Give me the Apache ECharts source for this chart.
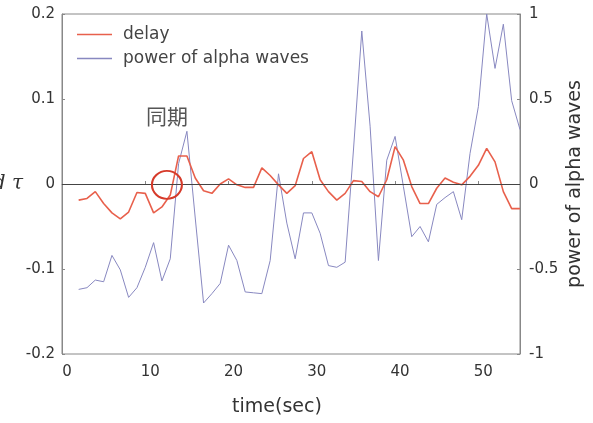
<!DOCTYPE html>
<html>
<head>
<meta charset="utf-8">
<script src="https://cdn.jsdelivr.net/npm/echarts@6/dist/echarts.min.js"></script>
<style>
  html, body { margin: 0; padding: 0; background: #fff; }
  #container1 { width: 593px; height: 423px; }
</style>
</head>
<body>
<div id="container1"></div>
<script>
// time (sec), one sample per second
var times = [2, 3, 4, 5, 6, 7, 8, 9, 10, 11, 12, 13, 14, 15, 16, 17, 18, 19, 20, 21,
             22, 23, 24, 25, 26, 27, 28, 29, 30, 31, 32, 33, 34, 35, 36, 37, 38, 39, 40, 41,
             42, 43, 44, 45, 46, 47, 48, 49, 50, 51, 52, 53, 54, 55];

// delay (left axis)
var delay = [-0.019, -0.017, -0.009, -0.023, -0.034, -0.041, -0.033, -0.010, -0.011, -0.034,
             -0.027, -0.013, 0.033, 0.033, 0.007, -0.008, -0.011, 0.000, 0.006, -0.001,
             -0.004, -0.004, 0.019, 0.010, -0.001, -0.011, -0.002, 0.030, 0.038, 0.005,
             -0.009, -0.019, -0.011, 0.004, 0.003, -0.009, -0.015, 0.005, 0.044, 0.028,
             -0.003, -0.023, -0.023, -0.005, 0.007, 0.002, -0.001, 0.009, 0.022, 0.042,
             0.026, -0.009, -0.029, -0.029];

// power of alpha waves (right axis)
var alpha = [-0.62, -0.61, -0.565, -0.575, -0.42, -0.505, -0.667, -0.61, -0.49, -0.345,
             -0.57, -0.44, 0.12, 0.31, -0.2, -0.70, -0.645, -0.585, -0.36, -0.45,
             -0.635, -0.64, -0.645, -0.45, 0.06, -0.23, -0.44, -0.17, -0.17, -0.29,
             -0.48, -0.49, -0.46, 0.2, 0.90, 0.34, -0.45, 0.14, 0.28, -0.015,
             -0.31, -0.25, -0.34, -0.12, -0.08, -0.045, -0.21, 0.18, 0.455, 1.0,
             0.68, 0.94, 0.49, 0.32];

var leftTicks = ['-0.2', '-0.1', '0', '0.1', '0.2'];
var rightTicks = ['-1', '-0.5', '0', '0.5', '1'];

var syncPoint = [12.6, -0.001];   // the circled crossing
var syncLabelAt = [12.6, 0.080];

var dom = document.getElementById("container1");
var myChart = echarts.init(dom);

var delayData = times.map(function (t, i) { return [t, delay[i]]; });
var alphaData = times.map(function (t, i) { return [t, alpha[i]]; });

var txt = '#333';
var font = 'DejaVu Sans';

option = {
    animation: false,
    backgroundColor: '#fff',
    color: ['#e8604c', '#8888c0'],
    grid: {
        left: 62, right: 73, top: 14, bottom: 69,
        outerBoundsMode: 'none',
        containLabel: false,
        show: true,
        borderColor: '#888',
        borderWidth: 1
    },
    legend: {
        orient: 'vertical',
        left: 72,
        top: 21,
        icon: 'rect',
        itemWidth: 35,
        itemHeight: 1.5,
        itemGap: 7,
        textStyle: { color: '#444', fontSize: 17, fontFamily: font, padding: [0, 0, 0, 6] },
        data: ['delay', 'power of alpha waves']
    },
    xAxis: {
        type: 'value',
        min: 0, max: 55, interval: 10,
        name: 'time(sec)',
        nameLocation: 'middle',
        nameGap: 44,
        nameMoveOverlap: false,
        nameTextStyle: { color: txt, fontSize: 19, fontFamily: font, padding: [0, 28, 0, 0] },
        axisLine: { lineStyle: { color: '#888' } },
        axisTick: { inside: true, length: 3, lineStyle: { color: '#888' } },
        axisLabel: {
            color: txt, fontSize: 15, fontFamily: font, margin: 11,
            padding: [0, 0, 0, 10], showMaxLabel: false
        },
        splitLine: { show: false }
    },
    yAxis: [
        {
            type: 'value',
            min: -0.2, max: 0.2, interval: 0.1,
            name: 'd τ',
            nameLocation: 'middle',
            nameRotate: 0,
            nameGap: 39,
            nameMoveOverlap: false,
            nameTextStyle: { color: '#333', fontSize: 20, fontFamily: 'DejaVu Serif', fontStyle: 'italic' },
            axisLine: { show: true, lineStyle: { color: '#888' } },
            axisTick: { show: true, inside: true, length: 3, lineStyle: { color: '#888' } },
            axisLabel: {
                color: txt, fontSize: 15, fontFamily: font, margin: 7,
                formatter: function (v) { return leftTicks[Math.round(v * 10) + 2]; }
            },
            splitLine: { show: false }
        },
        {
            type: 'value',
            min: -1, max: 1, interval: 0.5,
            name: 'power of alpha waves',
            nameLocation: 'middle',
            nameRotate: 90,
            nameGap: 46,
            nameMoveOverlap: false,
            nameTextStyle: { color: txt, fontSize: 19, fontFamily: font },
            axisLine: { show: true, lineStyle: { color: '#888' } },
            axisTick: { show: true, inside: true, length: 3, lineStyle: { color: '#888' } },
            axisLabel: {
                color: txt, fontSize: 15, fontFamily: font, margin: 9,
                formatter: function (v) { return rightTicks[Math.round(v * 2) + 2]; }
            },
            splitLine: { show: false }
        }
    ],
    series: [
        {
            name: 'delay',
            type: 'line',
            yAxisIndex: 0,
            symbol: 'none',
            lineStyle: { width: 1.6 },
            data: delayData,
            z: 3,
            markLine: {
                silent: true,
                symbol: 'none',
                label: { show: false },
                lineStyle: { color: '#444', width: 1, type: 'solid' },
                data: [{ yAxis: 0 }]
            },
            markPoint: {
                silent: true,
                data: [
                    {
                        coord: syncPoint,
                        symbol: 'circle',
                        symbolSize: [30, 28],
                        itemStyle: { color: 'rgba(0,0,0,0)', borderColor: '#d63a2a', borderWidth: 2 },
                        label: { show: false }
                    },
                    {
                        coord: syncLabelAt,
                        symbol: 'circle',
                        symbolSize: 1,
                        itemStyle: { color: 'rgba(0,0,0,0)' },
                        label: {
                            show: true, position: 'inside',
                            formatter: '同期',
                            color: '#555', fontSize: 21,
                            fontFamily: 'Noto Sans CJK SC'
                        }
                    }
                ]
            }
        },
        {
            name: 'power of alpha waves',
            type: 'line',
            yAxisIndex: 1,
            symbol: 'none',
            lineStyle: { width: 1 },
            data: alphaData,
            z: 2
        }
    ]
};

if (option && typeof option === "object") {
    myChart.setOption(option, true);
}
</script>
</body>
</html>
